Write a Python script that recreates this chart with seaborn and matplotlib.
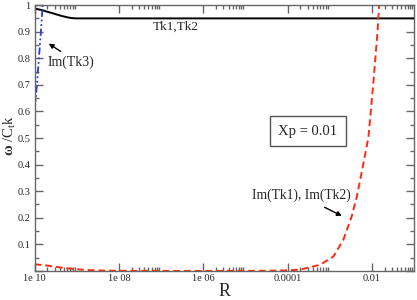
import numpy as np
import pandas as pd
import matplotlib
matplotlib.use("Agg")
import matplotlib.pyplot as plt
import seaborn as sns
from matplotlib.ticker import FixedLocator, NullFormatter

# Data
tk12_R = [1e-10, 1.5e-10, 2e-10, 3e-10, 4e-10, 5e-10, 6e-10, 7e-10, 8.5e-10, 1e-9,
          1e-8, 1e-6, 1e-4, 1e-2, 1e-1]
tk12_w = [0.987, 0.981, 0.975, 0.967, 0.961, 0.957, 0.954, 0.952, 0.9505, 0.950,
          0.950, 0.950, 0.950, 0.950, 0.950]

imtk3_R = [1.0e-10, 1.135e-10, 1.265e-10, 1.41e-10, 1.55e-10]
imtk3_w = [0.60, 0.70, 0.80, 0.90, 1.00]

imtk12_R = [1e-10, 2e-10, 3e-10, 5e-10, 1e-9, 2e-9, 5e-9, 1e-8, 1e-7, 1e-6, 1e-5, 3e-5,
            1e-4, 2e-4, 5.9e-4, 1.22e-3, 2.1e-3, 3.3e-3, 4.4e-3, 6.3e-3, 8.3e-3, 1.08e-2,
            1.35e-2, 1.51e-2]
imtk12_w = [0.025, 0.020, 0.016, 0.011, 0.006, 0.003, 0.001, 0.0005, 0.0, 0.0, 0.0, 0.0005,
            0.002, 0.005, 0.023, 0.054, 0.117, 0.204, 0.28, 0.405, 0.505, 0.706,
            0.893, 1.02]

x_major = [1e-10, 1e-8, 1e-6, 1e-4, 1e-2]
x_labels = ["1e 10", "1e 08", "1e 06", "0.0001", "0.01"]
y_major = [0.0, 0.1, 0.2, 0.3, 0.4, 0.5, 0.6, 0.7, 0.8, 0.9, 1.0]
y_labels = ["", "0.1", "0.2", "0.3", "0.4", "0.5", "0.6", "0.7", "0.8", "0.9", "1"]

sns.set_style("ticks")
plt.rcParams['font.family'] = ['Liberation Serif', 'DejaVu Serif']
plt.rcParams['mathtext.fontset'] = 'custom'
plt.rcParams['mathtext.rm'] = 'Liberation Serif'
plt.rcParams['mathtext.it'] = 'Liberation Serif:italic'
plt.rcParams['mathtext.bf'] = 'Liberation Serif:bold'

fig, ax = plt.subplots(figsize=(4.17, 3.0), dpi=100)
fig.subplots_adjust(left=0.083, right=0.993, bottom=0.097, top=0.983)

sns.lineplot(x=tk12_R, y=tk12_w, color='black', lw=1.4, estimator=None, sort=False, ax=ax)
sns.lineplot(x=imtk3_R, y=imtk3_w, color='#2a3fd6', lw=1.3, estimator=None, sort=False,
             linestyle=(0, (4, 1.5, 1, 1.5, 1, 1.5)), ax=ax)
sns.lineplot(x=imtk12_R, y=imtk12_w, color='#ff2a10', lw=1.4, estimator=None, sort=False,
             linestyle=(0, (3.5, 2)), ax=ax)

ax.set_xscale('log')
ax.set_xlim(1e-10, 1e-1)
ax.set_ylim(0, 1)

ax.xaxis.set_major_locator(FixedLocator(x_major))
ax.set_xticklabels(x_labels)
minors = [k * 10.0 ** e for e in [-10, -8, -6, -4, -2] for k in range(2, 10)]
ax.xaxis.set_minor_locator(FixedLocator(minors))
ax.xaxis.set_minor_formatter(NullFormatter())

ax.yaxis.set_major_locator(FixedLocator(y_major))
ax.set_yticklabels(y_labels)
ax.yaxis.set_minor_locator(FixedLocator(np.arange(0.05, 1.0, 0.1)))

ax.tick_params(which='both', direction='in', top=True, right=True, color='#666666',
               width=1.0, labelsize=7.5)
ax.tick_params(which='major', length=6)
ax.tick_params(which='minor', length=3)
ax.tick_params(axis='y', pad=3)
ax.tick_params(axis='x', pad=2.5)
for s in ax.spines.values():
    s.set_color('#666666')
    s.set_linewidth(1.0)

ax.set_xlabel("R", fontsize=13, labelpad=0)
ax.set_ylabel(r"$\mathbf{\omega}$ /C$_\mathrm{t}$k", fontsize=10.5)
ax.yaxis.set_label_coords(-0.044, 0.51)

ax.text(6.4e-8, 0.917, "Tk1,Tk2", fontsize=9.5, ha='left', va='center')
ax.text(2.07e-10, 0.786, "Im(Tk3)", fontsize=10, ha='left', va='center')
ax.annotate("", xy=(1.9e-10, 0.861), xytext=(4.7e-10, 0.82),
            arrowprops=dict(arrowstyle='-|>', color='black', lw=1.0, mutation_scale=7))
ax.text(1.43e-5, 0.286, "Im(Tk1), Im(Tk2)", fontsize=9.8, ha='left', va='center')
ax.annotate("", xy=(2.22e-3, 0.202), xytext=(6.6e-4, 0.244),
            arrowprops=dict(arrowstyle='-|>', color='black', lw=1.0, mutation_scale=7))
ax.text(3.05e-4, 0.526, "Xp = 0.01", fontsize=10.5, ha='center', va='center',
        bbox=dict(boxstyle='square,pad=0.6', fc='white', ec='#555555', lw=1.0))

fig.savefig("out.png", dpi=100)
